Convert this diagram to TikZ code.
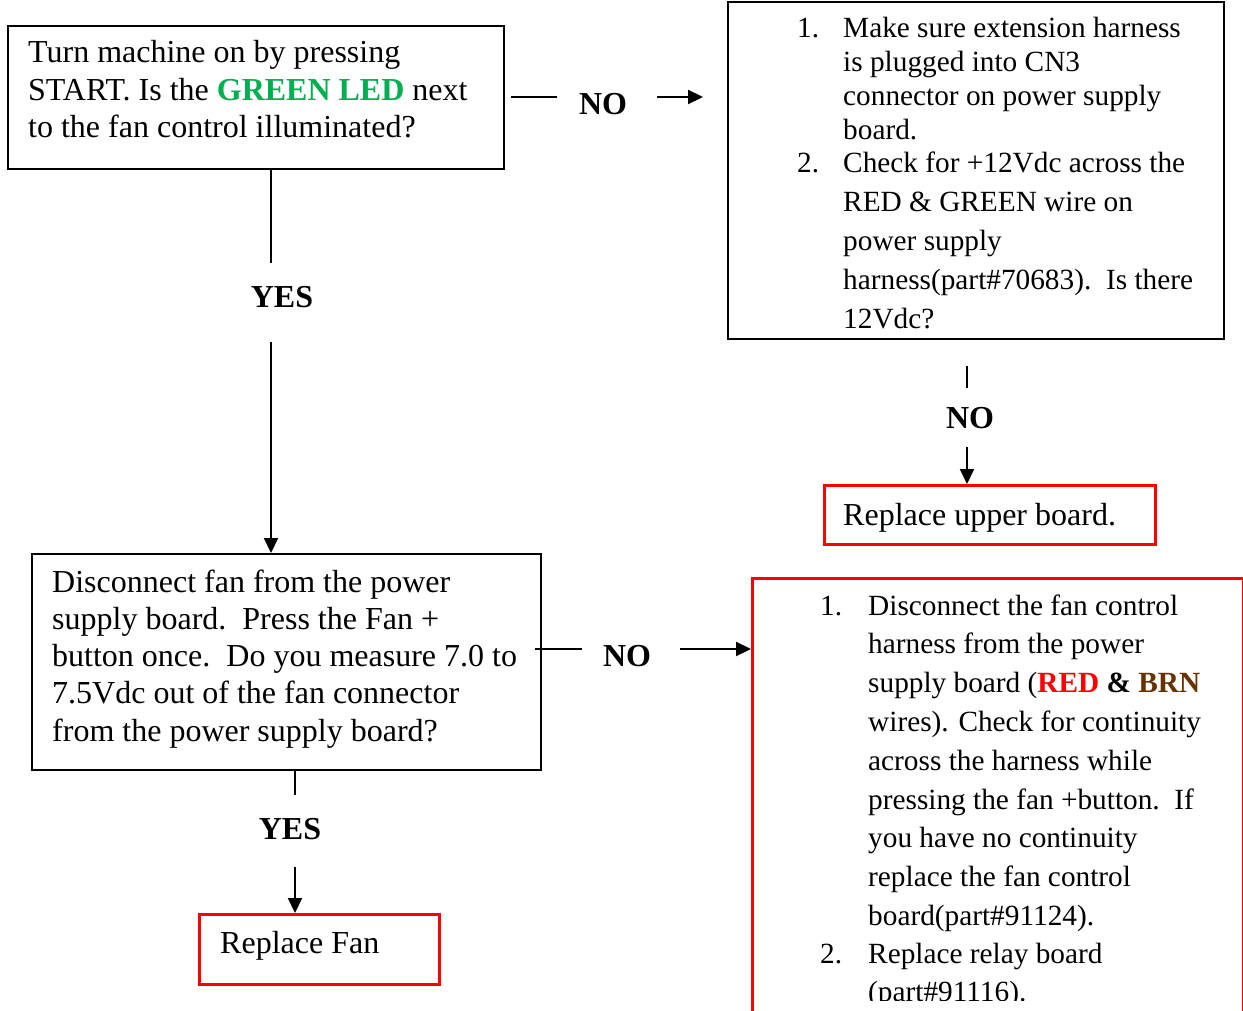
\documentclass[tikz,border=0pt]{standalone}
\usepackage{fontspec}
\setmainfont{Liberation Serif}
\usetikzlibrary{arrows.meta}
\definecolor{ledgreen}{HTML}{00B050}
\definecolor{wirered}{HTML}{FF0000}
\definecolor{wirebrn}{HTML}{663300}
\newcommand{\blines}[4][32]{\parbox[t]{#2pt}{\fontsize{#1}{#3}\selectfont\raggedright #4}}
\begin{document}
\begin{tikzpicture}[x=1pt,y=-1pt,
 blkbox/.style={draw=black,line width=2pt,rectangle,inner sep=0pt,anchor=north west},
 redbox/.style={draw=wirered,line width=3pt,rectangle,inner sep=0pt,anchor=north west},
 txt/.style={anchor=base west,inner sep=0pt,font=\fontsize{32}{38}\selectfont},
 ltxt/.style={anchor=base west,inner sep=0pt,font=\fontsize{29.3}{36}\selectfont},
 lbl/.style={anchor=base,inner sep=0pt,font=\fontsize{32}{38}\selectfont\bfseries},
 conn/.style={line width=2.2pt},
 arr/.style={line width=2.2pt,-{Triangle[length=15pt,width=14pt]}}]
\clip (0,0) rectangle (1243,1011);
\fill[white] (0,0) rectangle (1243,1011);

% Box 1
\node[blkbox,minimum width=496pt,minimum height=143pt] (q1) at (7,25) {};
\node[txt] (q1t) at (28,63) {\blines{480}{37.5}{Turn machine on by pressing\\START. Is the \textcolor{ledgreen}{\textbf{GREEN LED}} next\\to the fan control illuminated?}};

% Box 2
\node[blkbox,minimum width=496pt,minimum height=337pt] (c1) at (727,1) {};
\node[ltxt] (c1n1) at (797,38) {1.};
\node[ltxt] (c1n2) at (797,173) {2.};
\node[ltxt] (c1t1) at (843,38) {\blines[29.3]{370}{34}{Make sure extension harness\\is plugged into CN3\\connector on power supply\\board.}};
\node[ltxt] (c1t2) at (843,173) {\blines[29.3]{370}{38.8}{Check for +12Vdc across the\\RED \& GREEN wire on\\power supply\\harness(part\#70683).\ \ Is there\\12Vdc?}};

% Box 3
\node[redbox,minimum width=331pt,minimum height=59pt] (r1) at (823,484) {};
\node[txt] (r1t) at (843,525) {Replace upper board.};

% Box 4
\node[blkbox,minimum width=509pt,minimum height=216pt] (q2) at (31,553) {};
\node[txt] (q2t) at (52,592) {\blines{500}{37.3}{Disconnect fan from the power\\supply board.\ \ Press the Fan +\\button once.\ \ Do you measure 7.0 to\\7.5Vdc out of the fan connector\\from the power supply board?}};

% Box 5
\node[redbox,minimum width=491pt,minimum height=460pt] (c2) at (751,577) {};
\begin{scope}
\clip (751,577) rectangle (1243,1000);
\node[ltxt] (c2n1) at (820,615) {1.};
\node[ltxt] (c2n2) at (820,963) {2.};
\node[ltxt] (c2t1) at (868,615) {\blines[29.3]{370}{38.8}{Disconnect the fan control\\harness from the power\\supply board (\textcolor{wirered}{\textbf{RED}} \textbf{\&} \textcolor{wirebrn}{\textbf{BRN}}\\wires). Check for continuity\\across the harness while\\pressing the fan +button.\ \ If\\you have no continuity\\replace the fan control\\board(part\#91124).}};
\node[ltxt] (c2t2) at (868,963) {\blines[29.3]{370}{38}{Replace relay board\\(part\#91116).}};
\end{scope}

% Box 6
\node[redbox,minimum width=240pt,minimum height=70pt] (r2) at (198,913) {};
\node[txt] (r2t) at (220,953) {Replace Fan};

% Labels
\node[lbl] (no1) at (603,115) {NO};
\node[lbl] (yes1) at (282,307) {YES};
\node[lbl] (no2) at (970,428) {NO};
\node[lbl] (no3) at (627,666) {NO};
\node[lbl] (yes2) at (290,839) {YES};

% Connectors
\coordinate (n1s) at (511,97);
\coordinate (n1a) at (557,97);
\coordinate (n1b) at (657,97);
\coordinate (n1c) at (703,97);
\draw[conn] (n1s) -- (n1a);
\draw[arr] (n1b) -- (n1c);

\coordinate (y1a) at (271,263);
\coordinate (y1b) at (271,342);
\draw[conn] (q1.south -| y1a) -- (y1a);
\draw[arr] (y1b) -- (q2.north -| y1b);

\coordinate (n2a) at (967,366);
\coordinate (n2b) at (967,388);
\coordinate (n2c) at (967,447);
\draw[conn] (n2a) -- (n2b);
\draw[arr] (n2c) -- (r1.north -| n2c);

\coordinate (n3a) at (535,649);
\coordinate (n3b) at (582,649);
\coordinate (n3c) at (680,649);
\draw[conn] (n3a) -- (n3b);
\draw[arr] (n3c) -- (c2.west |- n3c);

\coordinate (y2a) at (295,795);
\coordinate (y2b) at (295,867);
\draw[conn] (q2.south -| y2a) -- (y2a);
\draw[arr] (y2b) -- (r2.north -| y2b);
\end{tikzpicture}
\end{document}
